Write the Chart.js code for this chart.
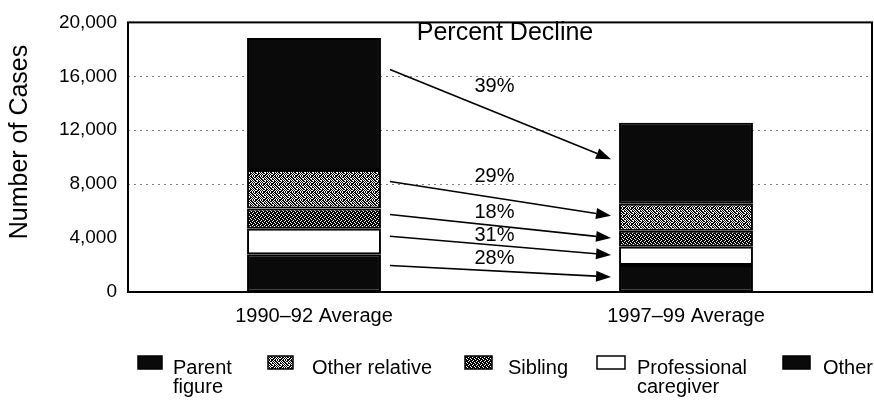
<!DOCTYPE html>
<html><head><meta charset="utf-8">
<script src="https://cdn.jsdelivr.net/npm/chart.js@4.4.0/dist/chart.umd.min.js"></script>
<style>html,body{margin:0;padding:0;background:#fff;overflow:hidden}#wrap{width:874px;height:400px}</style>
</head><body><div id="wrap"><canvas id="c" width="874" height="400"></canvas></div>
<script>
// ---- data ----
const categories = ['1990\u201392 Average', '1997\u201399 Average'];
const seriesNames = ['Other', 'Professional caregiver', 'Sibling', 'Other relative', 'Parent figure']; // bottom -> top
const otherPerp = [2800, 2000];
const professionalCaregiver = [1900, 1350];
const sibling = [1500, 1200];
const otherRelative = [2850, 2000];
const parentFigure = [9800, 6000];
const declineLabels = ['39%', '29%', '18%', '31%', '28%']; // top -> bottom
const legendLines = [['Parent', 'figure'], ['Other relative'], ['Sibling'], ['Professional', 'caregiver'], ['Other']];
const yMax = 20000, yStep = 4000;
const gridValues = [8000, 12000, 16000];
const yTitle = 'Number of Cases';

const FONT = '"Liberation Sans", Arial, Helvetica, sans-serif';
Chart.defaults.font.family = FONT;
Chart.defaults.color = '#000';

const canvas = document.getElementById('c');
const ctx0 = canvas.getContext('2d');
function makePattern(rows) {
  const h = rows.length, w = rows[0].length;
  const c = document.createElement('canvas'); c.width = w; c.height = h;
  const x = c.getContext('2d');
  x.fillStyle = '#fff'; x.fillRect(0, 0, w, h);
  x.fillStyle = '#000';
  rows.forEach((r, j) => { [...r].forEach((ch, i) => { if (ch === '1') x.fillRect(i, j, 1, 1); }); });
  return ctx0.createPattern(c, 'repeat');
}
const DARK = '#0a0a0a';
const patOtherRel = makePattern(['10110101', '01011011', '10101100', '11010110', '00101011', '10110101', '01101010', '11010101']);
const patSibling = makePattern(['1011', '0111', '1101', '1110']);
const fills = [DARK, '#ffffff', patSibling, patOtherRel, DARK];
const values = [otherPerp, professionalCaregiver, sibling, otherRelative, parentFigure];

const overlay = {
  id: 'overlay',
  afterDatasetsDraw(chart) {
    const { ctx, chartArea: a } = chart;
    ctx.save();
    // frame
    ctx.strokeStyle = '#000'; ctx.lineWidth = 2;
    ctx.strokeRect(a.left, a.top, a.right - a.left, a.bottom - a.top);
    // y title
    ctx.fillStyle = '#000';
    ctx.font = '25px ' + FONT;
    ctx.textAlign = 'center'; ctx.textBaseline = 'middle';
    ctx.save(); ctx.translate(20, 142); ctx.rotate(-Math.PI / 2); ctx.fillText(yTitle, 0, 0); ctx.restore();
    // title
    ctx.fillText('Percent Decline', 505, 33);
    // arrows
    const b0 = chart.getDatasetMeta(0).data;
    const x1 = b0[0].x + b0[0].width / 2 + 9;
    const x2 = b0[1].x - b0[1].width / 2 - 8;
    const mids = [];
    ctx.lineWidth = 1.6;
    ctx.font = '20px ' + FONT;
    let k = 0;
    for (let d = chart.data.datasets.length - 1; d >= 0; d--, k++) {
      const m = chart.getDatasetMeta(d).data;
      const f1 = k === 0 ? 0.76 : 0.7;
      const ys = m[0].base + (m[0].y - m[0].base) * f1;
      const ye = m[1].base + (m[1].y - m[1].base) * 0.55;
      const ang = Math.atan2(ye - ys, x2 - x1);
      const hl = 15, hw = 5.5;
      const bx = x2 - hl * Math.cos(ang), by = ye - hl * Math.sin(ang);
      ctx.beginPath(); ctx.moveTo(x1, ys); ctx.lineTo(bx, by); ctx.stroke();
      ctx.beginPath();
      ctx.moveTo(x2, ye);
      ctx.lineTo(bx + hw * Math.sin(ang), by - hw * Math.cos(ang));
      ctx.lineTo(bx - hw * Math.sin(ang), by + hw * Math.cos(ang));
      ctx.closePath(); ctx.fill();
      const mid = (ys + ye) / 2;
      let ly = mid - (k === 0 ? 28 : 22);
      if (k > 0) ly = Math.max(ly, (mid + mids[k - 1]) / 2);
      mids.push(mid);
      ctx.fillText(declineLabels[k], (x1 + x2) / 2 - 6, ly);
    }
    // legend
    const items = [
      { bx: 138, bw: 24, tx: 173, fill: DARK },
      { bx: 268, bw: 25, tx: 312, fill: patOtherRel },
      { bx: 465, bw: 27, tx: 508, fill: patSibling },
      { bx: 597, bw: 28, tx: 637, fill: '#fff' },
      { bx: 783, bw: 27, tx: 823, fill: DARK }
    ];
    ctx.textAlign = 'left'; ctx.textBaseline = 'alphabetic';
    items.forEach((it, i) => {
      ctx.fillStyle = it.fill;
      ctx.fillRect(it.bx, 356, it.bw, 13);
      ctx.strokeStyle = '#000'; ctx.lineWidth = 1.5;
      ctx.strokeRect(it.bx, 356, it.bw, 13);
      ctx.fillStyle = '#000';
      legendLines[i].forEach((t, j) => ctx.fillText(t, it.tx, 374 + j * 19));
    });
    ctx.restore();
  }
};

new Chart(canvas, {
  type: 'bar',
  data: {
    labels: categories,
    datasets: seriesNames.map((n, i) => ({
      label: n, data: values[i], backgroundColor: fills[i],
      borderColor: '#000', borderWidth: 2, borderSkipped: false,
      barPercentage: 0.36, categoryPercentage: 1.0
    }))
  },
  options: {
    responsive: false, animation: false, devicePixelRatio: 1,
    layout: { padding: { top: 19, right: 2, left: 0, bottom: 0 } },
    plugins: { legend: { display: false }, tooltip: { enabled: false } },
    scales: {
      x: {
        stacked: true,
        grid: { display: false, drawTicks: false },
        border: { display: false },
        ticks: { font: { size: 20 }, color: '#000', padding: 12 },
        afterFit: s => { s.height = 108; }
      },
      y: {
        stacked: true, min: 0, max: yMax,
        ticks: { stepSize: yStep, font: { size: 19 }, color: '#000', padding: 11,
          callback: v => v.toLocaleString('en-US') },
        grid: { drawTicks: false, lineWidth: 1,
          color: c => gridValues.includes(c.tick && c.tick.value) ? '#808080' : 'rgba(0,0,0,0)' },
        border: { display: false, dash: [2, 4] },
        title: { display: false },
        afterFit: s => { s.width = 128; }
      }
    }
  },
  plugins: [overlay]
});
</script>
</body></html>
